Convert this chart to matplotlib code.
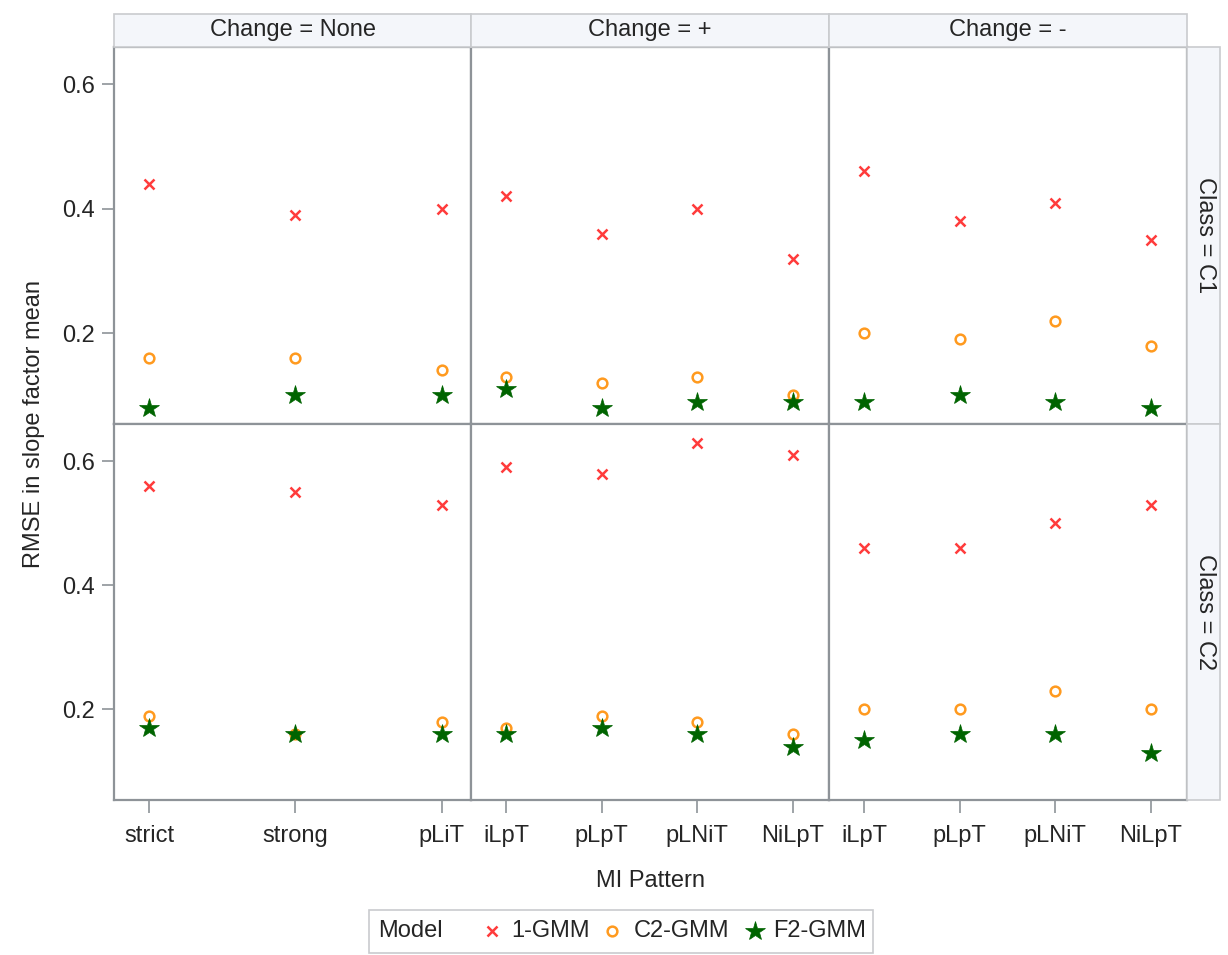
import matplotlib
matplotlib.use("Agg")
import matplotlib.pyplot as plt
from matplotlib.lines import Line2D
from matplotlib.patches import Rectangle

plt.rcParams["font.family"] = ["Liberation Sans", "DejaVu Sans"]

# panel layout: columns are the change type, rows are the class
changes = ["None", "+", "-"]
classes = ["C1", "C2"]
patterns = {
    "None": ["strict", "strong", "pLiT"],
    "+": ["iLpT", "pLpT", "pLNiT", "NiLpT"],
    "-": ["iLpT", "pLpT", "pLNiT", "NiLpT"],
}
models = ["1-GMM", "C2-GMM", "F2-GMM"]

# RMSE values, per class and change, one list per model
rmse_c1_none = {"1-GMM": [0.44, 0.39, 0.40], "C2-GMM": [0.16, 0.16, 0.14], "F2-GMM": [0.08, 0.10, 0.10]}
rmse_c1_plus = {"1-GMM": [0.42, 0.36, 0.40, 0.32], "C2-GMM": [0.13, 0.12, 0.13, 0.10], "F2-GMM": [0.11, 0.08, 0.09, 0.09]}
rmse_c1_minus = {"1-GMM": [0.46, 0.38, 0.41, 0.35], "C2-GMM": [0.20, 0.19, 0.22, 0.18], "F2-GMM": [0.09, 0.10, 0.09, 0.08]}
rmse_c2_none = {"1-GMM": [0.56, 0.55, 0.53], "C2-GMM": [0.19, 0.16, 0.18], "F2-GMM": [0.17, 0.16, 0.16]}
rmse_c2_plus = {"1-GMM": [0.59, 0.58, 0.63, 0.61], "C2-GMM": [0.17, 0.19, 0.18, 0.16], "F2-GMM": [0.16, 0.17, 0.16, 0.14]}
rmse_c2_minus = {"1-GMM": [0.46, 0.46, 0.50, 0.53], "C2-GMM": [0.20, 0.20, 0.23, 0.20], "F2-GMM": [0.15, 0.16, 0.16, 0.13]}

rmse = {
    ("C1", "None"): rmse_c1_none,
    ("C1", "+"): rmse_c1_plus,
    ("C1", "-"): rmse_c1_minus,
    ("C2", "None"): rmse_c2_none,
    ("C2", "+"): rmse_c2_plus,
    ("C2", "-"): rmse_c2_minus,
}

STYLE = {
    "1-GMM": dict(marker="x", color="#ff3b3b", markersize=7.5, markeredgewidth=1.8),
    "C2-GMM": dict(marker="o", color="#ff9a1f", markersize=7, markeredgewidth=1.8,
                   markerfacecolor="none"),
    "F2-GMM": dict(marker="*", color="#006400", markersize=15, markeredgewidth=0.5),
}

W, H = 1228, 955
TXT = "#252525"
SPINE = "#8e9398"
FS = 17

fig = plt.figure(figsize=(W / 100, H / 100), dpi=100)


def fx(px):
    return px / W


def fy(py):
    return 1 - py / H


col_edges = [114, 471, 829, 1187]
row_edges = [47, 424, 800]

for r, cls in enumerate(classes):
    for c, chg in enumerate(changes):
        x0, x1 = col_edges[c], col_edges[c + 1]
        y0, y1 = row_edges[r], row_edges[r + 1]
        ax = fig.add_axes([fx(x0), fy(y1), fx(x1 - x0), (y1 - y0) / H])
        cats = patterns[chg]
        xs = list(range(len(cats)))
        for m in models:
            ax.plot(xs, rmse[(cls, chg)][m], linestyle="none", **STYLE[m])
        if len(cats) == 3:
            ax.set_xlim(-0.24, 2.2)
        else:
            ax.set_xlim(-0.37, 3.38)
        ax.set_ylim(0.054, 0.66)
        for s in ax.spines.values():
            s.set_color(SPINE)
            s.set_linewidth(1.6)
        ax.set_xticks(xs)
        ax.set_yticks([0.2, 0.4, 0.6])
        ax.tick_params(colors=SPINE, labelcolor=TXT, labelsize=FS, length=9,
                       width=1.2, pad=5)
        ax.tick_params(axis="x", pad=9)
        if r == len(classes) - 1:
            ax.set_xticklabels(cats)
        else:
            ax.tick_params(axis="x", length=0, labelbottom=False)
        if c == 0:
            ax.set_yticklabels(["0.2", "0.4", "0.6"])
        else:
            ax.tick_params(axis="y", length=0, labelleft=False)

# column header strips
for c, chg in enumerate(changes):
    x0, x1 = col_edges[c], col_edges[c + 1]
    fig.patches.append(Rectangle((fx(x0), fy(47)), fx(x1 - x0), 33 / H,
                                 transform=fig.transFigure, facecolor="#f4f6fa",
                                 edgecolor="#c9cbce", linewidth=1.2))
    fig.text(fx((x0 + x1) / 2), fy(30), f"Change = {chg}", ha="center", va="center",
             fontsize=FS, color=TXT)

# row header strips
for r, cls in enumerate(classes):
    y0, y1 = row_edges[r], row_edges[r + 1]
    fig.patches.append(Rectangle((fx(1187), fy(y1)), fx(33), (y1 - y0) / H,
                                 transform=fig.transFigure, facecolor="#f4f6fa",
                                 edgecolor="#c9cbce", linewidth=1.2))
    fig.text(fx(1205), fy((y0 + y1) / 2), f"Class = {cls}", ha="center", va="center",
             rotation=270, fontsize=FS, color=TXT)

fig.text(fx(650), fy(881), "MI Pattern", ha="center", va="center", fontsize=FS, color=TXT)
fig.text(fx(34), fy(424), "RMSE in slope factor mean", ha="center", va="center",
         rotation=90, fontsize=FS, color=TXT)

# legend box with inline title
fig.patches.append(Rectangle((fx(369), fy(953)), fx(504), 43 / H,
                             transform=fig.transFigure, facecolor="white",
                             edgecolor="#c9cbce", linewidth=1.2))
fig.text(fx(378), fy(931), "Model", ha="left", va="center", fontsize=FS, color=TXT)
for m, mx, tx in zip(models, [492, 612, 755], [511, 634, 773]):
    fig.add_artist(Line2D([fx(mx)], [fy(931)], transform=fig.transFigure,
                          linestyle="none", **STYLE[m]))
    fig.text(fx(tx), fy(931), m, ha="left", va="center", fontsize=FS, color=TXT)

fig.savefig("out.png", dpi=100)
